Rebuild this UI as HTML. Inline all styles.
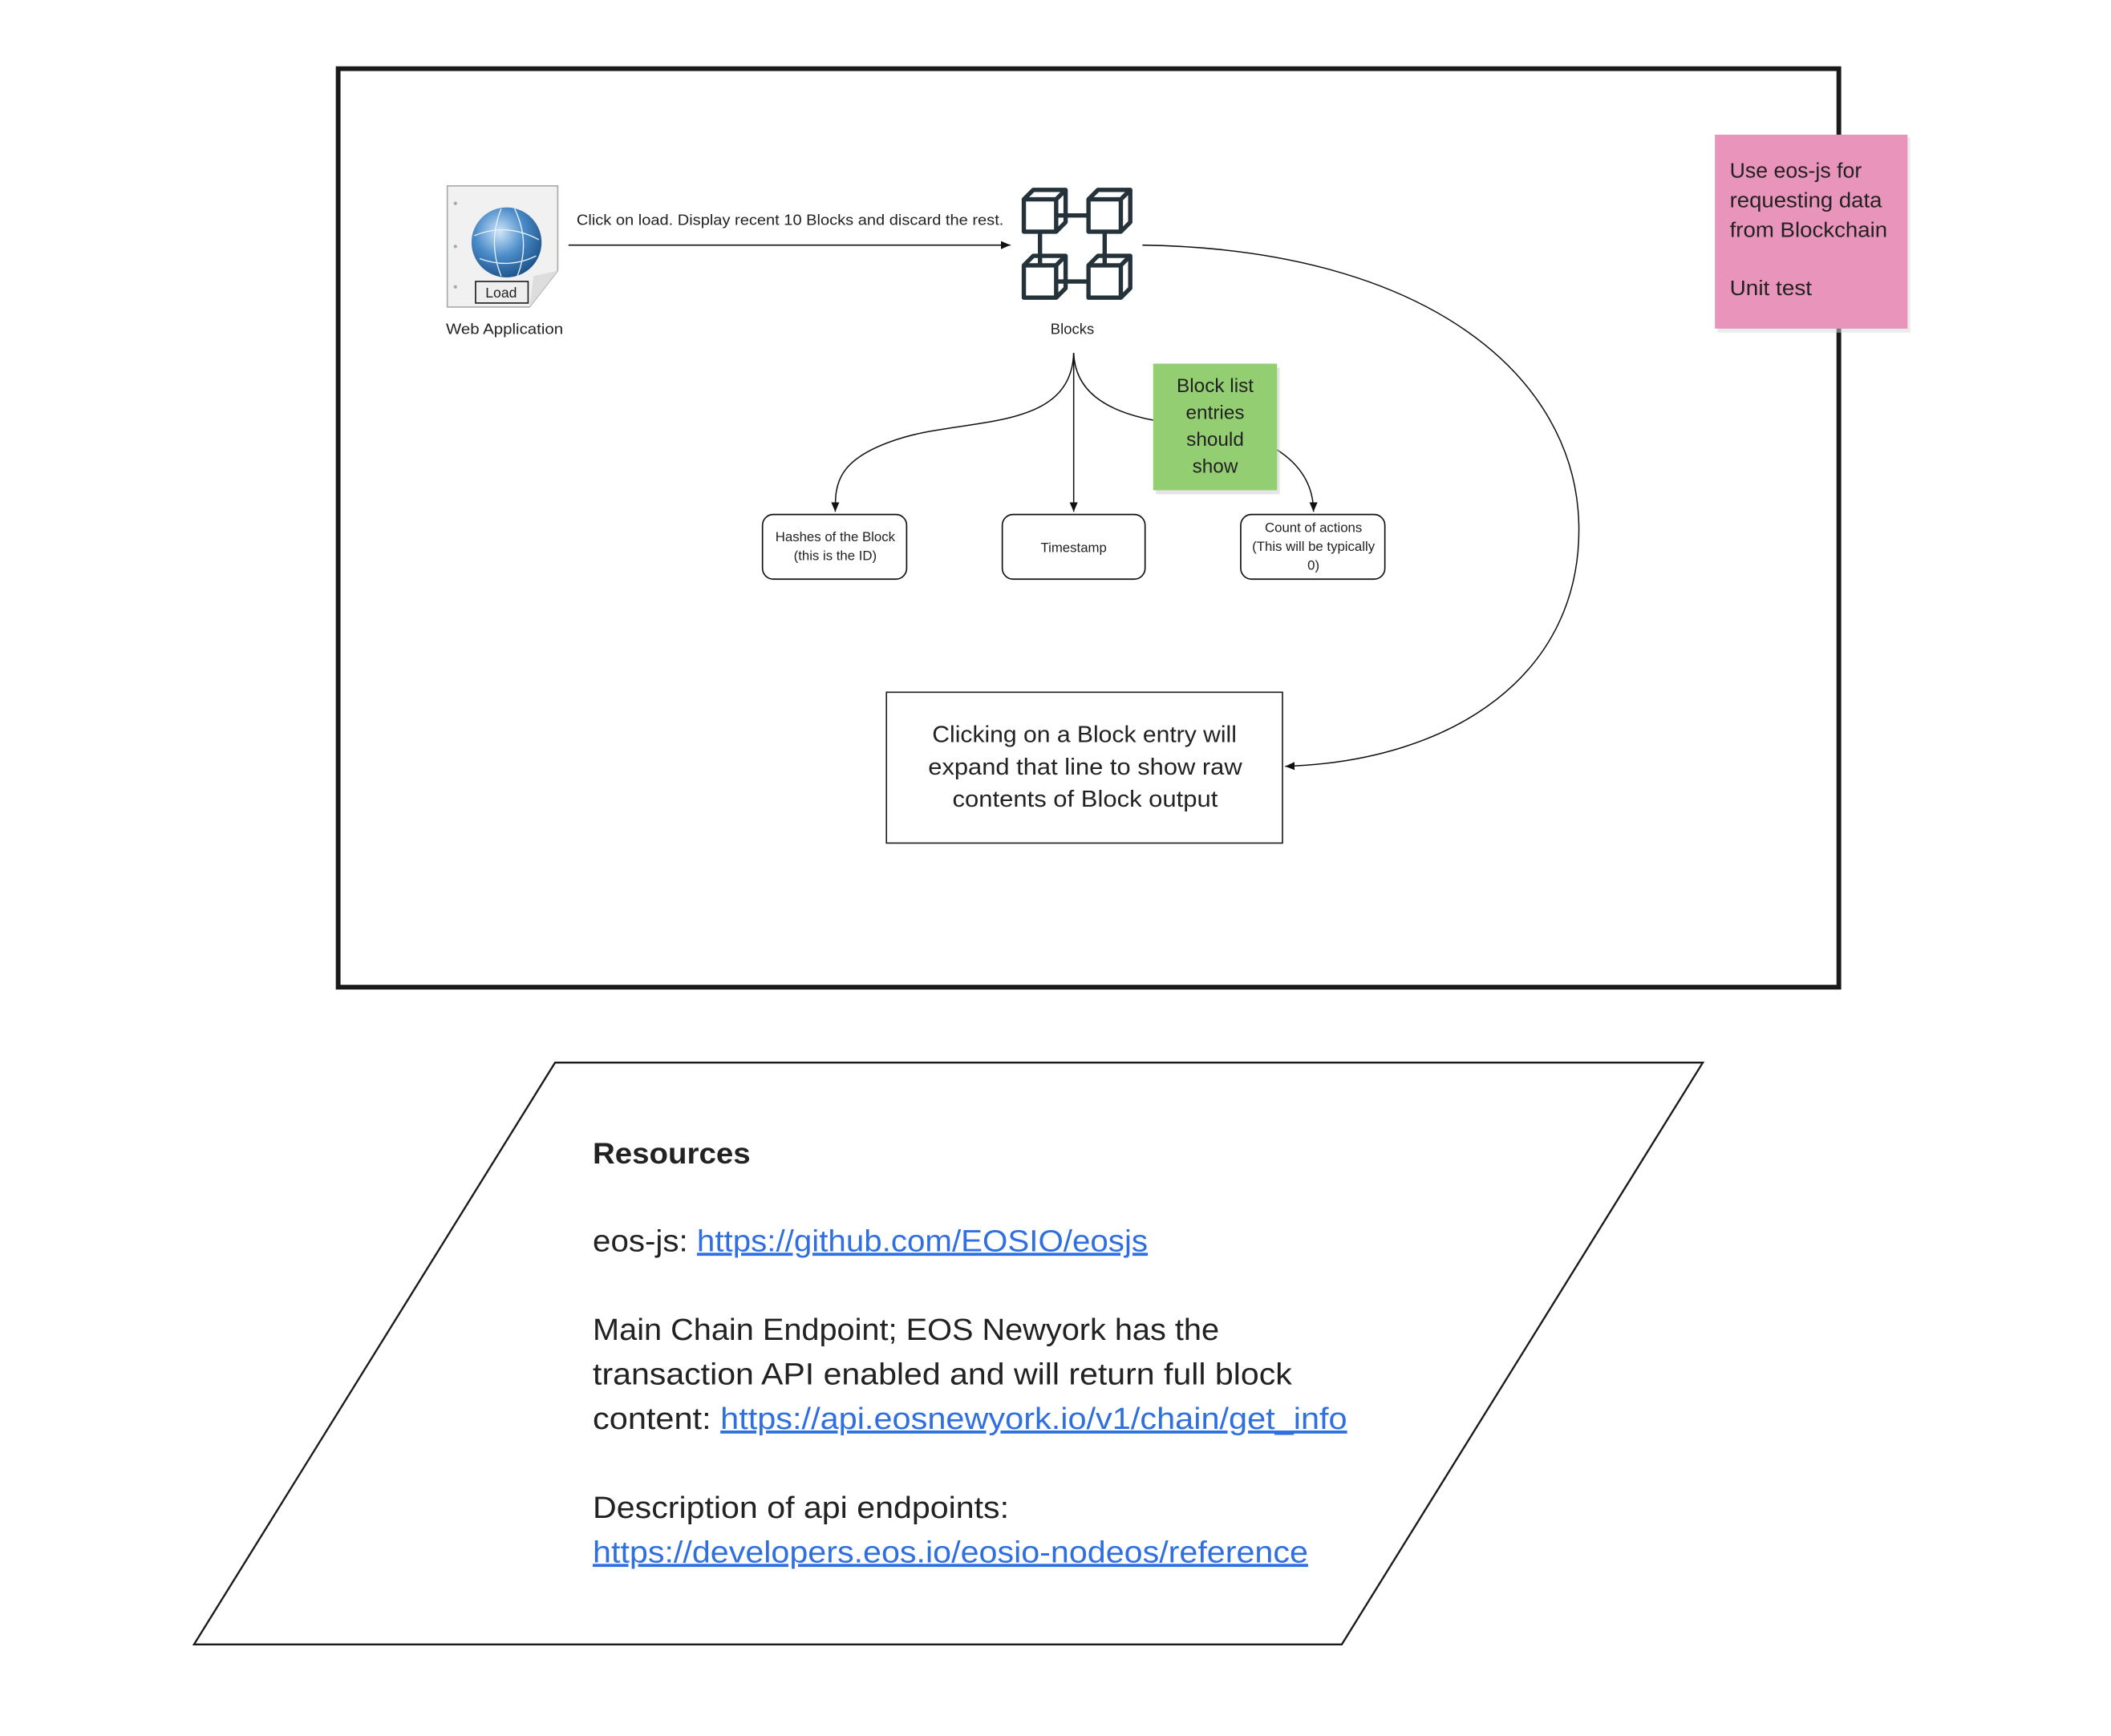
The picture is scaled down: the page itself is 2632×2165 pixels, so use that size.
<!DOCTYPE html>
<html><head><meta charset="utf-8"><style>
html,body{margin:0;padding:0;background:#fff}
svg{display:block}
text{font-family:"Liberation Sans","DejaVu Sans",sans-serif;fill:#222}
</style></head><body>
<svg width="2632" height="2165" viewBox="0 0 1567 1289" xmlns="http://www.w3.org/2000/svg">
<defs>
<marker id="ar" markerWidth="8" markerHeight="8" refX="7" refY="4" orient="auto" markerUnits="userSpaceOnUse">
<path d="M0,1 L7,4 L0,7 Z" fill="#111"/></marker>
<radialGradient id="gl" cx="0.4" cy="0.35" r="0.7"><stop offset="0" stop-color="#cfe6fa"/><stop offset="0.5" stop-color="#4b8cc9"/><stop offset="1" stop-color="#1b4f86"/></radialGradient>
</defs>
<rect width="1567" height="1289" fill="#fff"/>
<rect x="251" y="51" width="1114" height="682" fill="none" stroke="#1a1a1a" stroke-width="3.5"/>
<rect x="1275" y="102" width="143" height="145" fill="#d9d9d9" opacity="0.5"/>
<rect x="1273" y="100" width="143" height="144" fill="#e994bb"/>
<g font-size="15.5" lengthAdjust="spacingAndGlyphs">
<text x="1284" y="132" textLength="98" lengthAdjust="spacingAndGlyphs">Use eos-js for</text>
<text x="1284" y="154" textLength="113" lengthAdjust="spacingAndGlyphs">requesting data</text>
<text x="1284" y="176" textLength="117" lengthAdjust="spacingAndGlyphs">from Blockchain</text>
<text x="1284" y="219" textLength="61" lengthAdjust="spacingAndGlyphs">Unit test</text>
</g>
<path d="M332,138 L414,138 L414,201 L393,228 L332,228 Z" fill="#f1f1f1" stroke="#aaa"/>
<path d="M414,201 L393,228 L396,205 Z" fill="#ddd"/>
<circle cx="376" cy="180" r="26" fill="url(#gl)"/>
<path d="M352,175 Q376,165 400,178 M356,192 Q378,200 398,190 M372,155 Q362,180 372,205 M382,155 Q394,180 384,205" stroke="#e6f3ff" stroke-width="0.8" fill="none"/>
<circle cx="338" cy="151" r="1.3" fill="#aaa"/><circle cx="338" cy="183" r="1.3" fill="#aaa"/><circle cx="338" cy="213" r="1.3" fill="#aaa"/>
<rect x="353" y="209" width="39" height="16" fill="#eee" stroke="#222"/>
<text x="372" y="221" font-size="10.5" text-anchor="middle">Load</text>
<text x="331" y="248" font-size="11" textLength="87" lengthAdjust="spacingAndGlyphs">Web Application</text>
<line x1="422" y1="182" x2="750" y2="182" stroke="#111" marker-end="url(#ar)"/>
<text x="428" y="167" font-size="11" textLength="317" lengthAdjust="spacingAndGlyphs">Click on load. Display recent 10 Blocks and discard the rest.</text>
<g fill="none" stroke="#24323a" stroke-width="3.2" stroke-linejoin="round">
<g id="cb"><rect x="760" y="148" width="24" height="24"/><path d="M760,148 L767,141 L791,141 L791,165 L784,172 M784,148 L791,141"/></g>
<use href="#cb" x="48"/><use href="#cb" y="49"/><use href="#cb" x="48" y="49"/>
<path d="M784,160 L808,160 M784,209 L808,209 M772,172 L772,197 M820,172 L820,197"/>
</g>
<text x="796" y="248" font-size="11" text-anchor="middle">Blocks</text>
<g fill="none" stroke="#111" stroke-width="0.9">
<path d="M797,262 C795,320 720,310 670,325 C620,340 620,360 620,380" marker-end="url(#ar)"/>
<line x1="797" y1="262" x2="797" y2="380" marker-end="url(#ar)"/>
<path d="M797,262 C798,290 820,305 856,312"/>
<path d="M948,334 C965,345 975,360 975,380" marker-end="url(#ar)"/>
<path d="M848,182 C1060,185 1170,280 1172,390 C1174,500 1080,565 954,569" marker-end="url(#ar)"/>
</g>
<rect x="858" y="273" width="92" height="94" fill="#ccc" opacity="0.5"/>
<rect x="856" y="270" width="92" height="94" fill="#93cf72"/>
<text font-size="14.5" text-anchor="middle"><tspan x="902" y="291">Block list</tspan><tspan x="902" y="311">entries</tspan><tspan x="902" y="331">should</tspan><tspan x="902" y="351">show</tspan></text>
<g fill="#fff" stroke="#111" stroke-width="1">
<rect x="566" y="382" width="107" height="48" rx="8"/>
<rect x="744" y="382" width="106" height="48" rx="8"/>
<rect x="921" y="382" width="107" height="48" rx="8"/>
</g>
<text font-size="10" text-anchor="middle"><tspan x="620" y="402">Hashes of the Block</tspan><tspan x="620" y="416">(this is the ID)</tspan><tspan x="797" y="410">Timestamp</tspan><tspan x="975" y="395">Count of actions</tspan><tspan x="975" y="409">(This will be typically</tspan><tspan x="975" y="423">0)</tspan></text>
<rect x="658" y="514" width="294" height="112" fill="#fff" stroke="#222" stroke-width="1"/>
<g font-size="17">
<text x="692" y="551" textLength="226" lengthAdjust="spacingAndGlyphs">Clicking on a Block entry will</text>
<text x="689" y="575" textLength="233" lengthAdjust="spacingAndGlyphs">expand that line to show raw</text>
<text x="707" y="599" textLength="197" lengthAdjust="spacingAndGlyphs">contents of Block output</text>
</g>
<path d="M412,789 L1264,789 L996,1221 L144,1221 Z" fill="#fff" stroke="#1a1a1a" stroke-width="1.4"/>
<text x="440" y="864" font-size="22" font-weight="bold" textLength="117" lengthAdjust="spacingAndGlyphs">Resources</text>
<g font-size="22.5">
<text x="440" y="929" textLength="412" lengthAdjust="spacingAndGlyphs">eos-js: <tspan text-decoration="underline" style="fill:#2f6fe0">https://github.com/EOSIO/eosjs</tspan></text>
<text x="440" y="995" textLength="465" lengthAdjust="spacingAndGlyphs">Main Chain Endpoint; EOS Newyork has the</text>
<text x="440" y="1028" textLength="519" lengthAdjust="spacingAndGlyphs">transaction API enabled and will return full block</text>
<text x="440" y="1061" textLength="560" lengthAdjust="spacingAndGlyphs">content: <tspan text-decoration="underline" style="fill:#2f6fe0">https://api.eosnewyork.io/v1/chain/get_info</tspan></text>
<text x="440" y="1127" textLength="309" lengthAdjust="spacingAndGlyphs">Description of api endpoints:</text>
<text x="440" y="1160" text-decoration="underline" style="fill:#2f6fe0" textLength="531" lengthAdjust="spacingAndGlyphs">https://developers.eos.io/eosio-nodeos/reference</text>
</g>
</svg>
</body></html>
